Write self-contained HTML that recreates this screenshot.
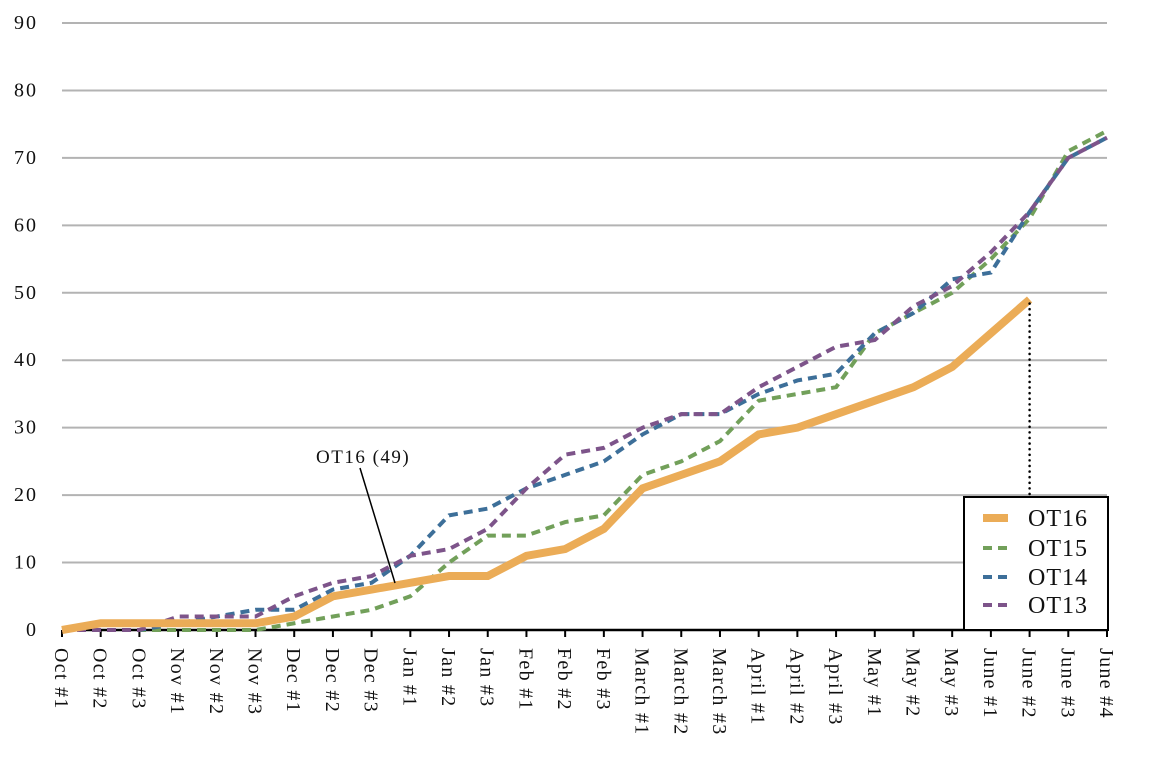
<!DOCTYPE html>
<html><head><meta charset="utf-8"><style>
body{margin:0;background:#fff;}
svg{display:block;font-family:"Liberation Serif",serif;}
</style></head><body>
<svg id="chart" width="1160" height="780" viewBox="0 0 1160 780" xmlns="http://www.w3.org/2000/svg">
<g id="grid"></g>
<g id="yaxis"></g>
<g id="xaxis"></g>
<g id="series"></g>
<g id="annot"></g>
<g id="legend"></g>
</svg>
<script>
const categories=["Oct #1","Oct #2","Oct #3","Nov #1","Nov #2","Nov #3","Dec #1","Dec #2","Dec #3","Jan #1","Jan #2","Jan #3","Feb #1","Feb #2","Feb #3","March #1","March #2","March #3","April #1","April #2","April #3","May #1","May #2","May #3","June #1","June #2","June #3","June #4"];
const ot16=[0,1,1,1,1,1,2,5,6,7,8,8,11,12,15,21,23,25,29,30,32,34,36,39,44,49];
const ot15=[0,0,0,0,0,0,1,2,3,5,10,14,14,16,17,23,25,28,34,35,36,44,47,50,55,61,71,74];
const ot14=[0,0,0,1,2,3,3,6,7,11,17,18,21,23,25,29,32,32,35,37,38,44,47,52,53,62,70,73];
const ot13=[0,0,0,2,2,2,5,7,8,11,12,15,21,26,27,30,32,32,36,39,42,43,48,51,56,62,70,73];
const yTicks=[0,10,20,30,40,50,60,70,80,90];
const annotLabel="OT16 (49)";

const NS="http://www.w3.org/2000/svg";
const X0=62,X1=1107,Y0=630,Y90=23;
const xs=i=>X0+i*(X1-X0)/(categories.length-1);
const ys=v=>Y0-v*(Y0-Y90)/90;
function mk(tag,attrs,parent){const e=document.createElementNS(NS,tag);for(const k in attrs)e.setAttribute(k,attrs[k]);parent.appendChild(e);return e;}
const grid=document.getElementById('grid'),yax=document.getElementById('yaxis'),xax=document.getElementById('xaxis'),ser=document.getElementById('series'),ann=document.getElementById('annot'),leg=document.getElementById('legend');

yTicks.forEach(t=>{
  if(t>0){const g=mk('line',{x1:X0,x2:X1,y1:ys(t),y2:ys(t),stroke:'#b3b3b3','stroke-width':2},grid);
  
  }
  const tx=mk('text',{x:38,y:ys(t)+6,'text-anchor':'end','font-size':20,'letter-spacing':2,fill:'#111'},yax);
  tx.textContent=t;
  
  
});
const ax=mk('line',{x1:X0,x2:X1,y1:Y0,y2:Y0,stroke:'#000','stroke-width':2.5},xax);


categories.forEach((c,i)=>{
  const tk=mk('line',{x1:xs(i),x2:xs(i),y1:Y0,y2:Y0+7,stroke:'#000','stroke-width':2},xax);
  
  
  const tx=mk('text',{x:0,y:0,'font-size':20,'letter-spacing':1.3,fill:'#111',transform:`translate(${xs(i)-7},${Y0+18}) rotate(90)`},xax);
  tx.textContent=c;
  
  
});

function line(vals,color,w,dash,name){
  const p=mk('polyline',{points:vals.map((v,i)=>xs(i)+','+ys(v)).join(' '),fill:'none',stroke:color,'stroke-width':w,'stroke-linejoin':'miter','stroke-dasharray':dash||'none'},ser);
  
  
}
line(ot15,'#72a05a',4,'9 6','ot15-line');
line(ot14,'#3d6f99',4,'9 6','ot14-line');
line(ot13,'#7d548a',4,'9 6','ot13-line');
line(ot16,'#ebac57',8,null,'ot16-line');

const last=ot16.length-1;
const dl=mk('line',{x1:xs(last),x2:xs(last),y1:ys(ot16[last])+4,y2:497,stroke:'#000','stroke-width':2.5,'stroke-dasharray':'0.1 5.5','stroke-linecap':'round'},ann);


const al=mk('line',{x1:360,y1:468,x2:395,y2:583,stroke:'#000','stroke-width':1.5},ann);


const at=mk('text',{x:316,y:463,'font-size':19,'letter-spacing':1.5,fill:'#111'},ann);
at.textContent=annotLabel;



const box=mk('rect',{x:964,y:497,width:144,height:133,fill:'#fff',stroke:'#000','stroke-width':2},leg);


const items=[["OT16",'#ebac57',8,null],["OT15",'#72a05a',4,'9 6'],["OT14",'#3d6f99',4,'9 6'],["OT13",'#7d548a',4,'9 6']];
const ly=[518,548,577,605];
items.forEach((it,k)=>{
  const l=mk('line',{x1:983,x2:1008,y1:ly[k],y2:ly[k],stroke:it[1],'stroke-width':it[2],'stroke-dasharray':it[3]||'none'},leg);
  
  
  const t=mk('text',{x:1028,y:ly[k]+8,'font-size':24,'letter-spacing':1,fill:'#111'},leg);
  t.textContent=it[0];
  
  
});
</script>
</body></html>
